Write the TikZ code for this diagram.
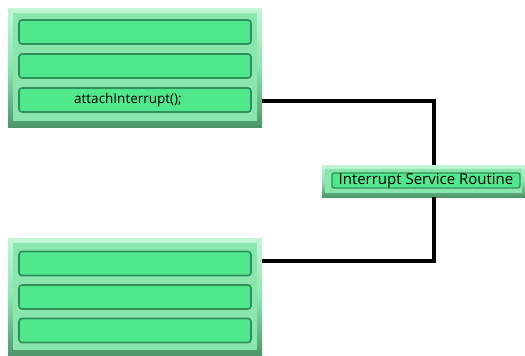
\documentclass[tikz,border=0pt]{standalone}
\usepackage{fontspec}
\newfontfamily\labelfont{Open Sans}
\usetikzlibrary{calc}
\definecolor{barGreen}{HTML}{50E88C}
\definecolor{barEdge}{HTML}{2F8F58}
\definecolor{faceGreen}{HTML}{8AE6AD}
\definecolor{rimLight}{HTML}{C4F5D7}
\definecolor{rimDark}{HTML}{4C966A}
\tikzstyle{panelStyle}=[shape = rectangle, inner sep = 0pt, top color = rimLight, bottom color = rimDark, middle color = faceGreen]
\tikzstyle{faceStyle}=[shape = rectangle, inner sep = 0pt, fill = faceGreen]
\tikzstyle{barStyle}=[shape = rectangle, rounded corners = 3pt, inner sep = 0pt, minimum width = 232pt, minimum height = 24pt, fill = barGreen, draw = barEdge, line width = 1.6pt, font = \labelfont\fontsize{13.5}{14}\selectfont]
\tikzstyle{wireStyle}=[line width = 4pt, black]

\begin{document}
\begin{tikzpicture}[x = 1pt, y = -1pt]
\useasboundingbox (0,0) rectangle (525,356);
% upper panel
\node[panelStyle, minimum width = 254pt, minimum height = 119pt] (topPanel) at (135,67.5) {};
\node[faceStyle, minimum width = 244pt, minimum height = 108pt] (topFace) at (135,67) {};
\node[barStyle] (topBarA) at (135,32) {};
\node[barStyle] (topBarB) at (135,66) {};
\node[barStyle] (topBarC) at (135,100) {\hspace*{-14pt}attachInterrupt();};
% lower panel
\node[panelStyle, minimum width = 254pt, minimum height = 118pt] (botPanel) at (135,297) {};
\node[faceStyle, minimum width = 244pt, minimum height = 107pt] (botFace) at (135,296.5) {};
\node[barStyle] (botBarA) at (135,263.5) {};
\node[barStyle] (botBarB) at (135,297) {};
\node[barStyle] (botBarC) at (135,330.5) {};
% interrupt service routine
\node[panelStyle, minimum width = 203pt, minimum height = 32pt] (isr) at (423.5,181) {};
\node[faceStyle, minimum width = 197pt, minimum height = 24pt] (isrFace) at (423.5,180.5) {};
\node[barStyle, minimum width = 188pt, minimum height = 15pt, line width = 1.4pt, rounded corners = 2pt, font = \labelfont\fontsize{15}{15}\selectfont] (isrBar) at (426,180.5) {Interrupt Service Routine};
% wires
\coordinate (jointA) at (434,101);
\coordinate (jointB) at (434,261);
\draw[wireStyle] (topPanel.east |- jointA) -| (isr.north -| jointA);
\draw[wireStyle] (isr.south -| jointB) |- (botPanel.east |- jointB);
\end{tikzpicture}
\end{document}
